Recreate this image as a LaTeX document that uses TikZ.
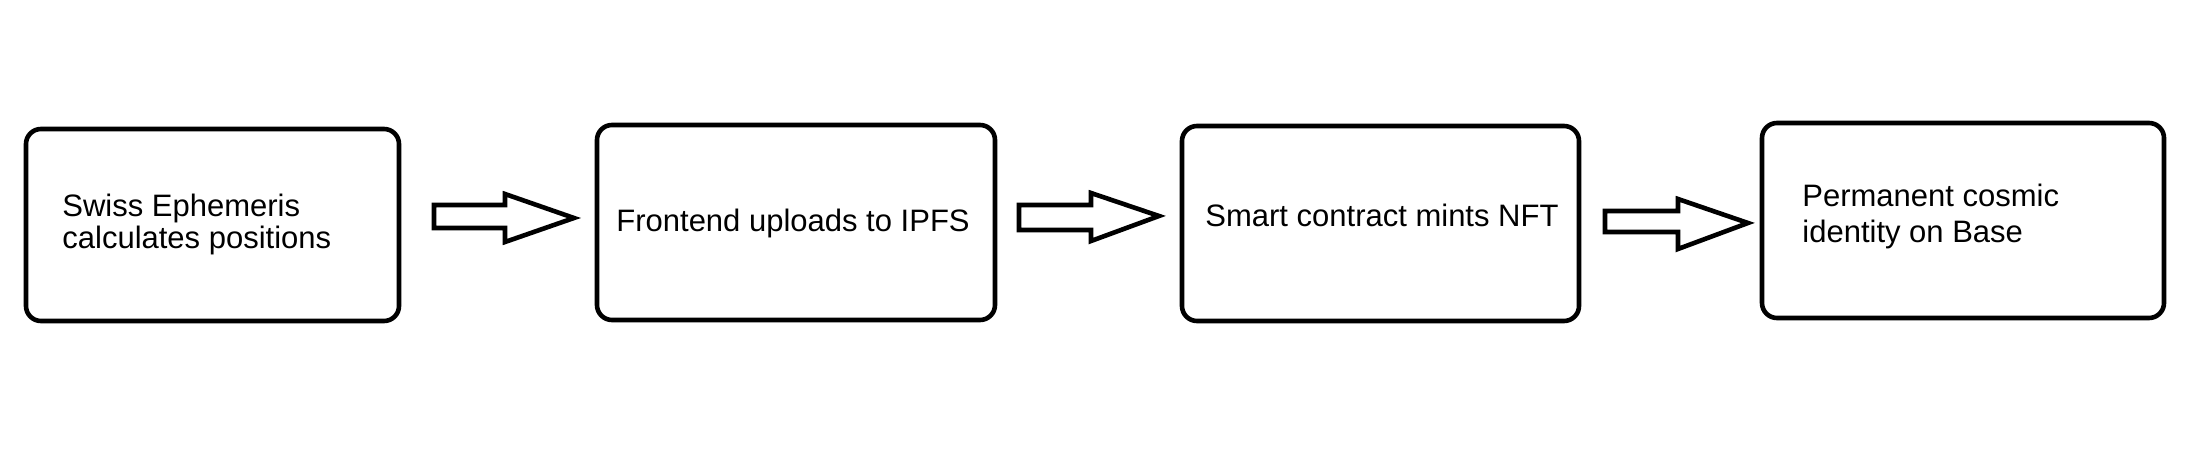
\documentclass[tikz,border=0pt]{standalone}
\usepackage{fontspec}
\setmainfont{Liberation Sans}
\usetikzlibrary{fit}
\tikzset{
  stagebox/.style={draw=black, line width=2.3pt, rounded corners=7.5pt, inner sep=0pt},
  blockarrow/.style={draw=black, fill=white, line width=2.3pt, line join=miter},
  lbl/.style={anchor=base west, inner sep=0pt, font=\fontsize{15.5pt}{16pt}\selectfont, align=left}
}
\begin{document}
\begin{tikzpicture}[x=0.5pt,y=-0.5pt]
\fill[white] (0,0) rectangle (2192,470);
\useasboundingbox (0,0) rectangle (2192,470);
% boxes
\node[stagebox, fit={(26,129)(399,321)}] (b1) {};
\node[stagebox, fit={(597,125)(995,320)}] (b2) {};
\node[stagebox, fit={(1182,126)(1579,321)}] (b3) {};
\node[stagebox, fit={(1762,123)(2164,318)}] (b4) {};
% texts (multi-line nodes: base = last line)
\node[lbl] (t1) at (62,248.5) {Swiss Ephemeris\\calculates positions};
\node[lbl] (t2) at (616,232) {Frontend uploads to IPFS};
\node[lbl] (t3) at (1205,227) {Smart contract mints NFT};
\node[lbl, font=\fontsize{15.5pt}{18.3pt}\selectfont] (t4) at (1802,243) {Permanent cosmic\\identity on Base};
% block arrows
\coordinate (a1) at (434,216.5);
\coordinate (a2) at (1019,217.5);
\coordinate (a3) at (1605,221.5);
\draw[blockarrow] (a1) ++(0,-11.5) -- ++(71,0) -- ++(0,-11) -- ++(69,24) -- ++(-69,24) -- ++(0,-14) -- ++(-71,0) -- cycle;
\draw[blockarrow] (a2) ++(0,-12.5) -- ++(72,0) -- ++(0,-12) -- ++(68,23) -- ++(-68,25) -- ++(0,-11) -- ++(-72,0) -- cycle;
\draw[blockarrow] (a3) ++(0,-10.5) -- ++(73,0) -- ++(0,-12) -- ++(70,24) -- ++(-70,26) -- ++(0,-17) -- ++(-73,0) -- cycle;
\end{tikzpicture}
\end{document}
